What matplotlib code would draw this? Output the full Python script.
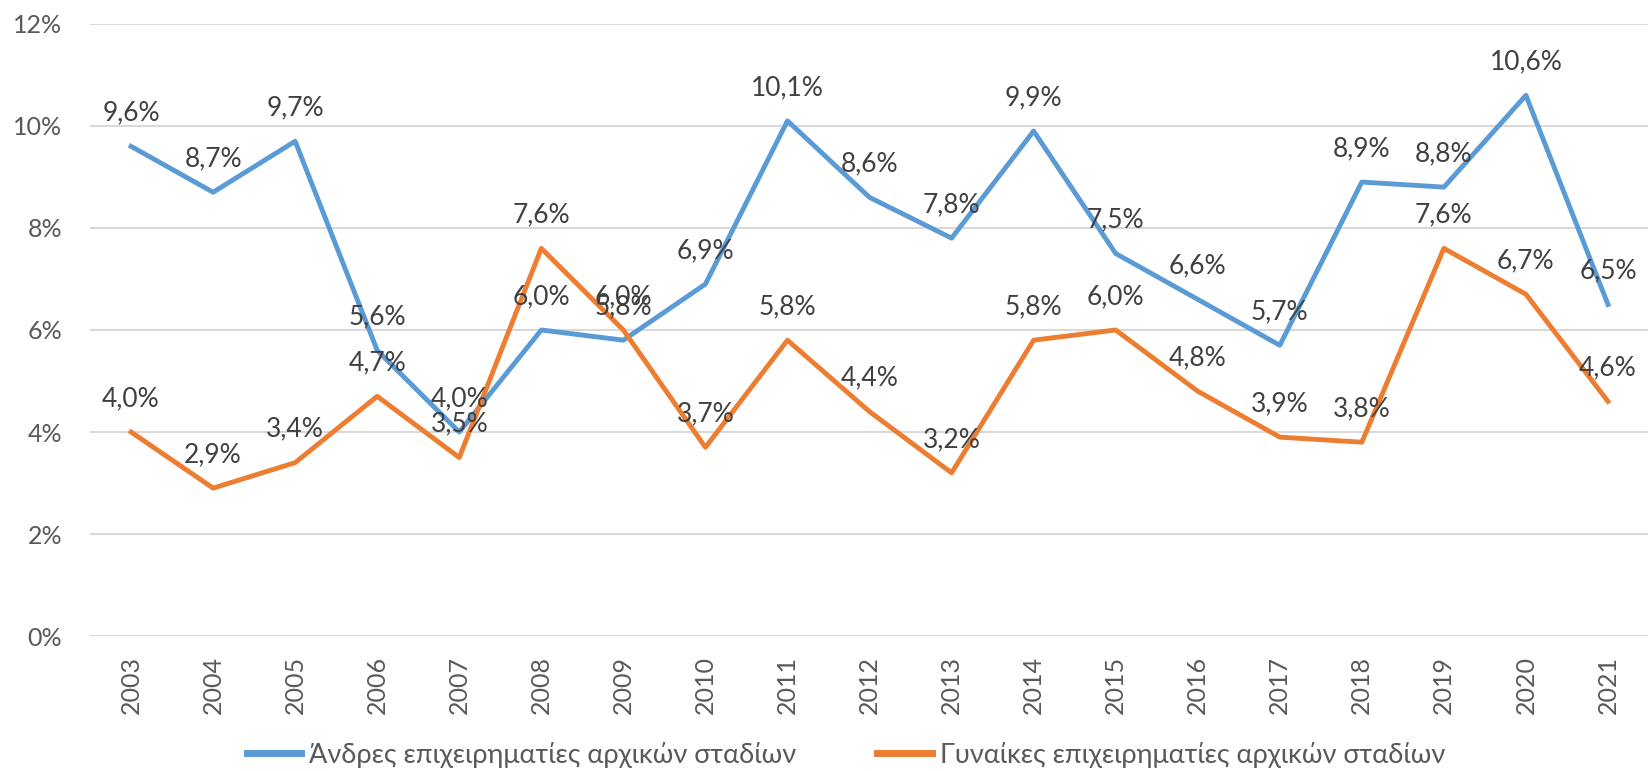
import numpy as np
import matplotlib
matplotlib.use('Agg')
import matplotlib.pyplot as plt
from matplotlib.ticker import FuncFormatter

plt.rcParams['font.family'] = ['Lato', 'Open Sans', 'DejaVu Sans']

years = ['2003', '2004', '2005', '2006', '2007', '2008', '2009', '2010', '2011', '2012',
         '2013', '2014', '2015', '2016', '2017', '2018', '2019', '2020', '2021']
men = [9.6, 8.7, 9.7, 5.6, 4.0, 6.0, 5.8, 6.9, 10.1, 8.6, 7.8, 9.9, 7.5, 6.6, 5.7, 8.9, 8.8, 10.6, 6.5]
women = [4.0, 2.9, 3.4, 4.7, 3.5, 7.6, 6.0, 3.7, 5.8, 4.4, 3.2, 5.8, 6.0, 4.8, 3.9, 3.8, 7.6, 6.7, 4.6]
labels = ['Άνδρες επιχειρηματίες αρχικών σταδίων', 'Γυναίκες επιχειρηματίες αρχικών σταδίων']
colors = ['#5B9BD5', '#ED7D31']

fig = plt.figure(figsize=(16.49, 7.71), dpi=100)
ax = fig.add_axes([0.0546, 0.175, 0.9454, 0.794])

x = np.arange(len(years))
for vals, lab, c in zip([men, women], labels, colors):
    ax.plot(x, vals, color=c, lw=3.5, label=lab, solid_joinstyle='round', zorder=3)

for vals in [men, women]:
    for xi, v in zip(x, vals):
        ax.annotate(('%.1f%%' % v).replace('.', ','), (xi, v), xytext=(0, 15),
                    textcoords='offset points', ha='center', va='bottom',
                    fontsize=19, color='#404040', zorder=5)

ax.set_xlim(-0.5, len(years) - 0.5)
ax.set_ylim(0, 12)
ax.set_yticks(np.arange(0, 13, 2))
ax.yaxis.set_major_formatter(FuncFormatter(lambda v, p: '%d%%' % v))
ax.set_xticks(x)
ax.set_xticklabels(years, rotation=90)
ax.tick_params(axis='both', length=0, labelsize=18, labelcolor='#595959')
ax.tick_params(axis='y', pad=20)
ax.tick_params(axis='x', pad=14)
ax.grid(axis='y', color='#D9D9D9', lw=1.5, zorder=0)
for s in ax.spines.values():
    s.set_visible(False)

leg = fig.legend(loc='center', bbox_to_anchor=(0.513, 0.021), ncol=2, frameon=False,
                 fontsize=19.5, labelcolor='#595959', handlelength=2.0, handletextpad=0.3,
                 columnspacing=3.0)
for h in leg.get_lines():
    h.set_linewidth(5)

fig.savefig('out.png', dpi=100)
